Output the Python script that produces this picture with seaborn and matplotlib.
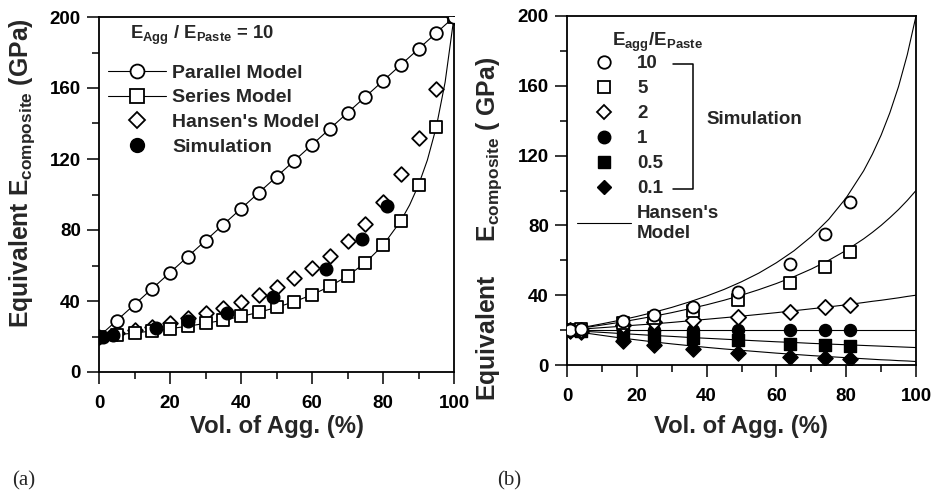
import matplotlib
matplotlib.use("Agg")
import matplotlib.pyplot as plt
import seaborn as sns
from matplotlib.lines import Line2D
from matplotlib.ticker import MultipleLocator

# ---------------- data ----------------
# (a) E_agg / E_paste = 10, model values every 5 % of aggregate volume
vol_model = [0, 5, 10, 15, 20, 25, 30, 35, 40, 45, 50,
             55, 60, 65, 70, 75, 80, 85, 90, 95, 100]
parallel_model = [20, 29, 38, 47, 56, 65, 74, 83, 92, 101, 110,
                  119, 128, 137, 146, 155, 164, 173, 182, 191, 200]
series_model = [20.0, 20.9, 22.0, 23.1, 24.4, 25.8, 27.4, 29.2, 31.3, 33.6, 36.4,
                39.6, 43.5, 48.2, 54.1, 61.5, 71.4, 85.1, 105.3, 137.9, 200.0]
hansen_model = [20.0, 21.7, 23.6, 25.6, 27.8, 30.3, 33.0, 36.1, 39.5, 43.3, 47.7,
                52.7, 58.6, 65.4, 73.6, 83.5, 95.8, 111.3, 131.7, 159.6, 200.0]

# model curves (finer near 100 %)
vol_curve = [0, 5, 10, 15, 20, 25, 30, 35, 40, 45, 50, 55, 60, 65, 70,
             75, 80, 85, 87.5, 90, 92.5, 95, 97.5, 100]
series_curve = [20.0, 20.9, 22.0, 23.1, 24.4, 25.8, 27.4, 29.2, 31.3, 33.6, 36.4, 39.6,
                43.5, 48.2, 54.1, 61.5, 71.4, 85.1, 94.1, 105.3, 119.4, 137.9, 163.3, 200.0]
hansen_r10 = [20.0, 21.7, 23.6, 25.6, 27.8, 30.3, 33.0, 36.1, 39.5, 43.3, 47.7, 52.7,
              58.6, 65.4, 73.6, 83.5, 95.8, 111.3, 120.8, 131.7, 144.5, 159.6, 177.8, 200.0]
hansen_r5 = [20.0, 21.4, 22.9, 24.4, 26.2, 28.0, 30.0, 32.2, 34.5, 37.1, 40.0, 43.2,
             46.7, 50.6, 55.0, 60.0, 65.7, 72.3, 76.0, 80.0, 84.4, 89.1, 94.3, 100.0]
hansen_r2 = [20.0, 20.7, 21.4, 22.1, 22.9, 23.6, 24.4, 25.3, 26.2, 27.1, 28.0, 29.0,
             30.0, 31.1, 32.2, 33.3, 34.5, 35.8, 36.5, 37.1, 37.8, 38.5, 39.3, 40.0]
hansen_r1 = [20.0] * 24
hansen_r05 = [20.0, 19.3, 18.7, 18.1, 17.5, 16.9, 16.4, 15.8, 15.3, 14.8, 14.3, 13.8,
              13.3, 12.9, 12.4, 12.0, 11.6, 11.2, 11.0, 10.8, 10.6, 10.4, 10.2, 10.0]
hansen_r01 = [20.0, 18.4, 17.0, 15.6, 14.4, 13.2, 12.1, 11.1, 10.1, 9.2, 8.4, 7.6,
              6.8, 6.1, 5.4, 4.8, 4.2, 3.6, 3.3, 3.0, 2.8, 2.5, 2.3, 2.0]

# simulation results
vol_sim = [1, 4, 16, 25, 36, 49, 64, 74, 81]
sim_r10 = [20, 20.8, 25, 28.5, 33.5, 42, 58, 75, 93.5]
sim_r5 = [20, 20.5, 24, 27, 31, 37, 47, 56, 65]
sim_r2 = [20, 20.3, 23, 24.5, 26, 27.5, 30.5, 33, 34.5]
sim_r1 = [20, 20, 20, 20, 20, 20, 20, 20, 20]
sim_r05 = [20, 19.6, 18, 16.8, 15.5, 14.3, 12, 11.5, 11]
sim_r01 = [19.6, 18.8, 13.5, 11.2, 9, 6.8, 4.8, 3.8, 3.2]

ratio_labels = ["10", "5", "2", "1", "0.5", "0.1"]

# ---------------- style ----------------
sns.set_theme(style="ticks")
plt.rcParams.update({
    "font.family": ["Liberation Sans", "DejaVu Sans"],
    "font.weight": "bold",
    "axes.labelweight": "bold",
    "mathtext.fontset": "custom",
    "mathtext.rm": "Liberation Sans:bold",
    "mathtext.bf": "Liberation Sans:bold",
    "mathtext.it": "Liberation Sans:bold",
    "axes.linewidth": 1.3,
    "axes.edgecolor": "black",
    "xtick.color": "black",
    "ytick.color": "black",
    "xtick.direction": "out",
    "ytick.direction": "out",
    "xtick.major.size": 8.5,
    "ytick.major.size": 8.5,
    "xtick.minor.size": 4.8,
    "ytick.minor.size": 4.8,
    "xtick.major.width": 1.1,
    "ytick.major.width": 1.1,
    "xtick.minor.width": 1.1,
    "ytick.minor.width": 1.1,
    "xtick.major.pad": 8.0,
    "ytick.major.pad": 4.5,
    "xtick.labelsize": 13.5,
    "ytick.labelsize": 13.5,
    "axes.labelsize": 17.8,
    "legend.fontsize": 14,
})

fig = plt.figure(figsize=(9.35, 5), dpi=100)
ax_a = fig.add_axes([99 / 935, 1 - 372 / 500, 355 / 935, 355 / 500])
ax_b = fig.add_axes([567 / 935, 1 - 365 / 500, 349 / 935, 349 / 500])

LW = 0.8
MS = 75
XLABEL_SIZE = 17.2
open_kw = dict(facecolor="white", edgecolor="black", linewidth=1.3)
fill_kw = dict(color="black", edgecolor="black", linewidth=1.0)

# ---------------- (a) ----------------
sns.lineplot(x=vol_model, y=parallel_model, ax=ax_a, color="black", lw=LW, zorder=2)
sns.lineplot(x=vol_curve, y=series_curve, ax=ax_a, color="black", lw=LW, zorder=2)
sns.scatterplot(x=vol_model, y=hansen_model, ax=ax_a, marker="D", s=MS * 0.75, zorder=3, **open_kw)
sns.scatterplot(x=vol_model, y=series_model, ax=ax_a, marker="s", s=MS * 1.1, zorder=4, **open_kw)
sns.scatterplot(x=vol_model, y=parallel_model, ax=ax_a, marker="o", s=MS * 1.1, zorder=4, **open_kw)
sns.scatterplot(x=vol_sim, y=sim_r10, ax=ax_a, marker="o", s=MS * 1.1, zorder=5, **fill_kw)

ax_a.set_xlim(0, 100)
ax_a.set_ylim(0, 200)
ax_a.xaxis.set_major_locator(MultipleLocator(20))
ax_a.xaxis.set_minor_locator(MultipleLocator(10))
ax_a.yaxis.set_major_locator(MultipleLocator(40))
ax_a.yaxis.set_minor_locator(MultipleLocator(20))
ax_a.set_xlabel("Vol. of Agg. (%)", labelpad=2, fontsize=XLABEL_SIZE)
ax_a.set_ylabel(r"Equivalent $\mathbf{E_{composite}}$ (GPa)")
ax_a.yaxis.set_label_coords(-0.175, 0.56)

handles_a = [
    Line2D([], [], color="black", lw=LW, marker="o", ms=10, mfc="white", mec="black", mew=1.3),
    Line2D([], [], color="black", lw=LW, marker="s", ms=10, mfc="white", mec="black", mew=1.3),
    Line2D([], [], ls="none", marker="D", ms=8, mfc="white", mec="black", mew=1.3),
    Line2D([], [], ls="none", marker="o", ms=10, mfc="black", mec="black"),
]
leg_a = ax_a.legend(handles_a, ["Parallel Model", "Series Model", "Hansen's Model", "Simulation"],
                    loc="upper left", bbox_to_anchor=(0.025, 0.867), frameon=False,
                    borderaxespad=0, borderpad=0, handlelength=3.0, handletextpad=0.3,
                    labelspacing=0.36, numpoints=1)
ax_a.text(0.087, 0.948, r"$\mathbf{E_{Agg}}$ / $\mathbf{E_{Paste}}$ = 10", transform=ax_a.transAxes,
          fontsize=13.3, fontweight="bold", va="center", ha="left")

# ---------------- (b) ----------------
curves = [hansen_r10, hansen_r5, hansen_r2, hansen_r1, hansen_r05, hansen_r01]
for c in curves:
    sns.lineplot(x=vol_curve, y=c, ax=ax_b, color="black", lw=LW, zorder=2)

sns.scatterplot(x=vol_sim, y=sim_r01, ax=ax_b, marker="D", s=MS * 0.8, zorder=3, **fill_kw)
sns.scatterplot(x=vol_sim, y=sim_r05, ax=ax_b, marker="s", s=MS, zorder=3, **fill_kw)
sns.scatterplot(x=vol_sim, y=sim_r1, ax=ax_b, marker="o", s=MS, zorder=3, **fill_kw)
sns.scatterplot(x=vol_sim, y=sim_r2, ax=ax_b, marker="D", s=MS * 0.8, zorder=4, **open_kw)
sns.scatterplot(x=vol_sim, y=sim_r5, ax=ax_b, marker="s", s=MS, zorder=4, **open_kw)
sns.scatterplot(x=vol_sim, y=sim_r10, ax=ax_b, marker="o", s=MS, zorder=4, **open_kw)

ax_b.set_xlim(0, 100)
ax_b.set_ylim(0, 200)
ax_b.xaxis.set_major_locator(MultipleLocator(20))
ax_b.xaxis.set_minor_locator(MultipleLocator(10))
ax_b.yaxis.set_major_locator(MultipleLocator(40))
ax_b.yaxis.set_minor_locator(MultipleLocator(20))
ax_b.set_xlabel("Vol. of Agg. (%)", labelpad=7, fontsize=XLABEL_SIZE)
ax_b.set_ylabel(r"Equivalent     $\mathbf{E_{composite}}$ ( GPa)")
ax_b.yaxis.set_label_coords(-0.18, 0.39)

handles_b = [
    Line2D([], [], ls="none", marker="o", ms=9, mfc="white", mec="black", mew=1.3),
    Line2D([], [], ls="none", marker="s", ms=9, mfc="white", mec="black", mew=1.3),
    Line2D([], [], ls="none", marker="D", ms=7.5, mfc="white", mec="black", mew=1.3),
    Line2D([], [], ls="none", marker="o", ms=9, mfc="black", mec="black"),
    Line2D([], [], ls="none", marker="s", ms=9, mfc="black", mec="black"),
    Line2D([], [], ls="none", marker="D", ms=7.5, mfc="black", mec="black"),
    Line2D([], [], color="black", lw=LW),
]
leg_b = ax_b.legend(handles_b, ratio_labels + ["Hansen's\nModel"],
                    loc="upper left", bbox_to_anchor=(0.029, 0.888), frameon=False,
                    borderaxespad=0, borderpad=0, handlelength=2.9, handletextpad=0.3,
                    labelspacing=0.42, numpoints=1, fontsize=13.5)
ax_b.text(0.129, 0.925, r"$\mathbf{E_{agg}}$/$\mathbf{E_{Paste}}$", transform=ax_b.transAxes,
          fontsize=13.5, fontweight="bold", va="center", ha="left")

# bracket grouping the simulation entries
fig.canvas.draw()
renderer = fig.canvas.get_renderer()
inv = ax_b.transAxes.inverted()
texts = leg_b.get_texts()
y_top = inv.transform(texts[0].get_window_extent(renderer).get_points().mean(axis=0))[1]
y_bot = inv.transform(texts[5].get_window_extent(renderer).get_points().mean(axis=0))[1]
bx0, bx1 = 0.304, 0.361
ax_b.add_line(Line2D([bx0, bx1, bx1, bx0], [y_top, y_top, y_bot, y_bot],
                     transform=ax_b.transAxes, color="black", lw=1.1, clip_on=False))
ax_b.text(0.40, (y_top + y_bot) / 2 + 0.02, "Simulation", transform=ax_b.transAxes,
          fontsize=13.5, fontweight="bold", va="center", ha="left")

# panel tags
fig.text(12 / 935, 1 - 481 / 500, "(a)", family="Liberation Serif", fontweight="normal",
         fontsize=15, va="center", ha="left")
fig.text(497 / 935, 1 - 481 / 500, "(b)", family="Liberation Serif", fontweight="normal",
         fontsize=15, va="center", ha="left")

fig.savefig("out.png", dpi=100)
